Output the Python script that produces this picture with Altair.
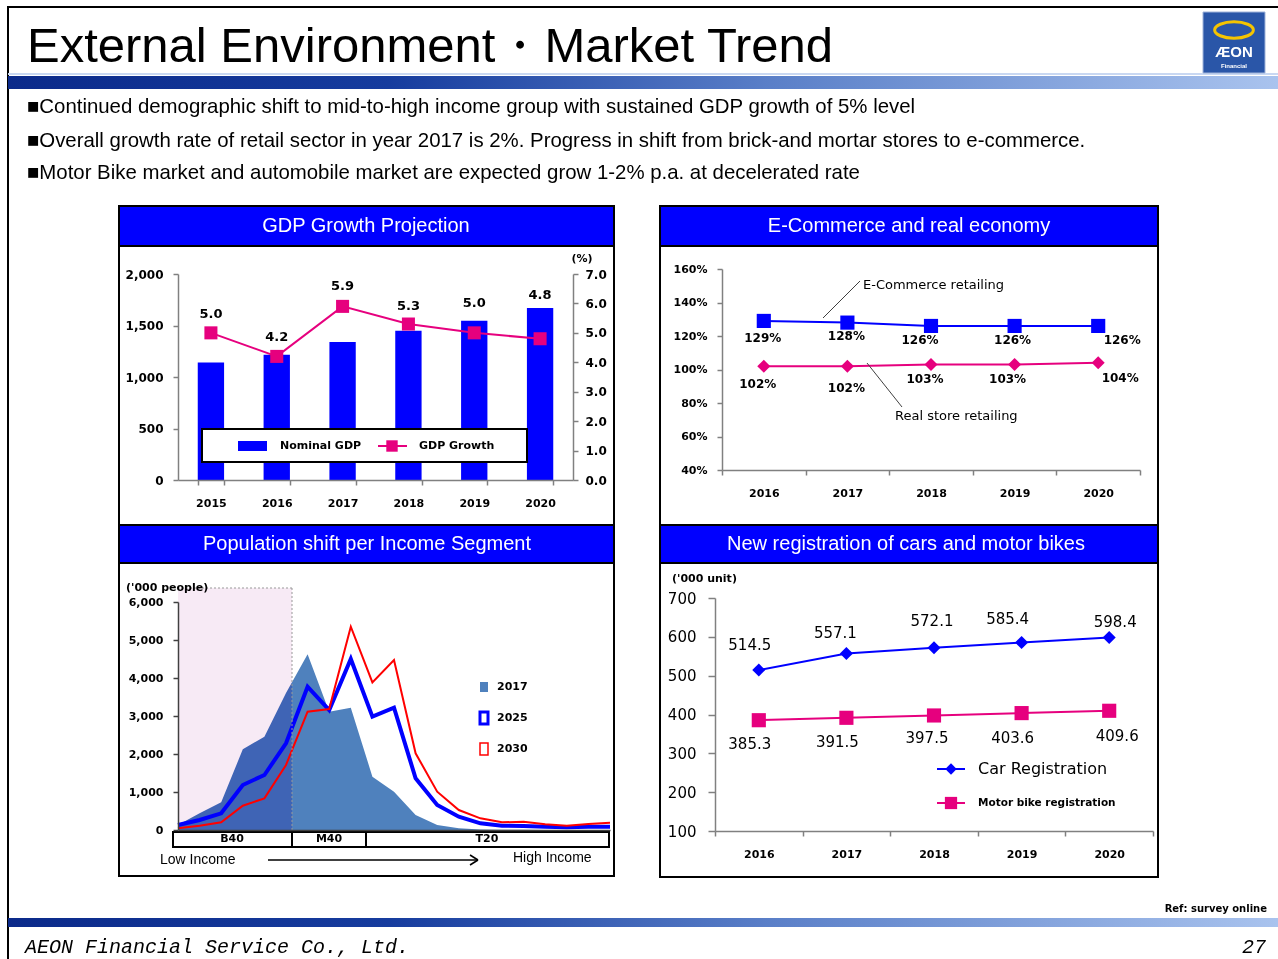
import altair as alt
import pandas as pd

W, H = 1278, 959
SANS = "Liberation Sans"
DJ = "DejaVu Sans"
MONO = "Liberation Mono"
PINK = "#E6007E"
BLUE = "#0000FF"
STEEL = "#4F81BD"
GRAY = "#808080"

# ---------------- data ----------------
title_text = "External Environment・Market Trend"
bullets = [
    "■Continued demographic shift to mid-to-high income group with sustained GDP growth of 5% level",
    "■Overall growth rate of retail sector in year 2017 is 2%. Progress in shift from brick-and mortar stores to e-commerce.",
    "■Motor Bike market and automobile market are expected grow 1-2% p.a. at decelerated rate",
]
panel_titles = [
    "GDP Growth Projection",
    "E-Commerce and real economy",
    "Population shift per Income Segment",
    "New registration of cars and motor bikes",
]

gdp_years = ["2015", "2016", "2017", "2018", "2019", "2020"]
nominal_gdp = [1140, 1215, 1340, 1450, 1545, 1670]
gdp_growth = [5.0, 4.2, 5.9, 5.3, 5.0, 4.8]

ecom_years = ["2016", "2017", "2018", "2019", "2020"]
ecommerce = [129, 128, 126, 126, 126]
real_store = [102, 102, 103, 103, 104]

pop_segments = list(range(21))
pop_2017 = [132, 439, 728, 2123, 2456, 3605, 4623, 3114, 3219, 1404, 1009, 395, 132, 44, 15, 8, 5, 0, 0, 0, 0]
pop_2025 = [132, 263, 439, 1184, 1447, 2281, 3772, 3158, 4500, 2982, 3219, 1360, 658, 351, 175, 114, 105, 88, 70, 88, 88]
pop_2030 = [44, 114, 202, 640, 833, 1711, 3114, 3184, 5351, 3886, 4474, 2018, 1009, 526, 307, 202, 219, 149, 114, 158, 193]
income_groups = ["B40", "M40", "T20"]

reg_years = ["2016", "2017", "2018", "2019", "2020"]
car_reg = [514.5, 557.1, 572.1, 585.4, 598.4]
bike_reg = [385.3, 391.5, 397.5, 403.6, 409.6]

# label placement offsets (dx, dy) in pixels, per category
gdp_label_off = [(0, -19), (0, -19), (0, -20), (0, -18), (0, -30), (0, -44)]
ecom_label_off = [(-1, 17), (-1, 13), (-11, 14), (-2, 14), (24, 14)]
real_label_off = [(-6, 18), (-1, 22), (-6, 15), (-7, 15), (22, 15)]
car_label_off = [(-9, -25), (-11, -20), (-2, -27), (-14, -24), (6, -15)]
bike_label_off = [(-9, 24), (-9, 24), (-7, 23), (-9, 25), (8, 25)]

# ---------------- helpers (decoration) ----------------
ONE = alt.Data(values=[{"d": 0}])


def rect(x0, y0, x1, y1, **kw):
    return alt.Chart(ONE).mark_rect(**kw).encode(
        x=alt.value(x0), x2=alt.value(x1), y=alt.value(y0), y2=alt.value(y1))


def rule(x0, y0, x1, y1, **kw):
    return alt.Chart(ONE).mark_rule(**kw).encode(
        x=alt.value(x0), x2=alt.value(x1), y=alt.value(y0), y2=alt.value(y1))


def label(s, x, y, size=12, font=DJ, weight="normal", color="black",
          align="left", style="normal", baseline="middle"):
    return alt.Chart(ONE).mark_text(
        text=s, fontSize=size, font=font, fontWeight=weight, color=color,
        align=align, baseline=baseline, fontStyle=style).encode(
        x=alt.value(x), y=alt.value(y))


def sym(x, y, shape, size, color, filled=True, sw=1.0):
    return alt.Chart(ONE).mark_point(
        shape=shape, size=size, filled=filled, color=color,
        strokeWidth=sw, opacity=1).encode(x=alt.value(x), y=alt.value(y))


def axis(orient, offset, **kw):
    base = dict(orient=orient, offset=offset, grid=False, domainColor=GRAY,
                tickColor=GRAY, domainWidth=1.5, tickWidth=1.5, tickSize=5,
                labelColor="black", labelFont=DJ, labelFontSize=11,
                labelFontWeight="bold", labelPadding=10, labelOverlap=False,
                labelFlush=False, labelAngle=0, zindex=1)
    base.update(kw)
    return alt.Axis(**base)


def grad(stops):
    return alt.LinearGradient(
        gradient="linear",
        stops=[alt.GradientStop(color=c, offset=o) for o, c in stops],
        x1=0, x2=1, y1=0, y2=0)


def point_labels(df, cats, offsets, x, y, text, **mk):
    out = []
    for c, (dx, dy) in zip(cats, offsets):
        out.append(alt.Chart(df).transform_filter(alt.datum.year == c).mark_text(
            dx=dx, dy=dy, **mk).encode(x=x, y=y, text=text))
    return out


bar_grad = grad([(0, "#0b2a8a"), (0.3, "#163c9e"), (0.6, "#5a7fc8"), (1, "#a9c3ee")])

layers = []

# ---- slide frame, title, bullets ----
layers += [
    rule(7, 7, W, 7, color="black", strokeWidth=2),
    rule(8, 7, 8, H, color="black", strokeWidth=2),
    label(title_text, 27, 47, size=49, font=SANS, color="black"),
    rect(8, 73, W, 75, fill="#c9d8f2"),
    rect(8, 76, W, 89, fill=bar_grad),
]
for i, b in enumerate(bullets):
    layers.append(label(b, 27, [107, 141, 173][i], size=20.4, font=SANS))

# ---- logo ----
layers += [
    rect(1203, 12, 1265, 73, fill="#2a56a8", stroke="#9fb3da", strokeWidth=1),
    sym(1234, 30, "M-1,0A1,0.42 0 1,0 1,0A1,0.42 0 1,0 -1,0Z", 1500, "#f5c400", filled=False, sw=3),
    label("ÆON", 1234, 52, size=15, font=SANS, weight="bold", color="white", align="center"),
    label("Financial", 1234, 66, size=6, font=SANS, weight="bold", color="white", align="center"),
]

# ---- panel frames + headers ----
panels = [
    (119, 206, 614, 525, 246, 226, 366),
    (660, 206, 1158, 525, 246, 226, 909),
    (119, 525, 614, 876, 563, 544, 367),
    (660, 525, 1158, 877, 563, 544, 906),
]
for (x0, y0, x1, y1, hb, ty, tx), t in zip(panels, panel_titles):
    layers += [
        rect(x0, y0, x1, y1, fillOpacity=0, stroke="black", strokeWidth=2),
        rect(x0, y0, x1, hb, fill=BLUE, stroke="black", strokeWidth=2),
        label(t, tx, ty, size=20, font=SANS, color="white", align="center"),
    ]

# ---- GDP panel ----
gdp_df = pd.DataFrame({"year": gdp_years, "gdp": nominal_gdp, "growth": gdp_growth})
xs_gdp = alt.Scale(type="band", domain=gdp_years, range=[178, 573],
                   paddingInner=0.6, paddingOuter=0.3)
gdp_xaxis = axis("bottom", 480 - H, tickBand="extent", labelPadding=12)
bars = alt.Chart(gdp_df).mark_bar(color=BLUE).encode(
    x=alt.X("year:N", scale=xs_gdp, title=None, axis=gdp_xaxis),
    y=alt.Y("gdp:Q", scale=alt.Scale(domain=[0, 2000], range=[480, 274]), title=None,
            axis=axis("left", -178, values=[0, 500, 1000, 1500, 2000], format=",.0f",
                      labelFontSize=12)),
)
gx = alt.X("year:N", scale=xs_gdp, axis=gdp_xaxis, bandPosition=0.5, title=None)
gy = alt.Y("growth:Q", scale=alt.Scale(domain=[0, 7], range=[480, 274]), title=None,
           axis=axis("right", 573 - W, values=[0, 1, 2, 3, 4, 5, 6, 7], format=".1f",
                     labelPadding=7, labelFontSize=12))
gbase = alt.Chart(gdp_df).encode(x=gx, y=gy)
growth = alt.layer(
    gbase.mark_line(color=PINK, strokeWidth=2),
    gbase.mark_point(shape="square", size=170, filled=True, color=PINK, opacity=1),
    *point_labels(gdp_df, gdp_years, gdp_label_off, gx, gy,
                  alt.Text("growth:Q", format=".1f"),
                  fontSize=13, font=DJ, fontWeight="bold", color="black"),
)
layers.append(alt.layer(bars, growth).resolve_scale(y="independent"))
layers += [
    label("(%)", 582, 259, size=11, weight="bold", align="center"),
    rect(202, 429, 527, 462, fill="white", stroke="black", strokeWidth=2),
    rect(238, 441, 267, 451, fill=BLUE),
    label("Nominal GDP", 280, 446, size=11, weight="bold"),
    rule(378, 446, 407, 446, color=PINK, strokeWidth=2),
    sym(392, 446, "square", 130, PINK),
    label("GDP Growth", 419, 446, size=11, weight="bold"),
]

# ---- E-commerce panel ----
e_df = pd.DataFrame({"year": ecom_years, "ecom": ecommerce, "real": real_store})
xs_e = alt.Scale(type="band", domain=ecom_years, range=[722, 1140], paddingInner=0, paddingOuter=0)
ys_e = alt.Scale(domain=[40, 160], range=[470, 269])
ex = alt.X("year:N", scale=xs_e, bandPosition=0.5, title=None,
           axis=axis("bottom", 470 - H, tickBand="extent", labelPadding=12))
ey_axis = axis("left", -722, values=[40, 60, 80, 100, 120, 140, 160],
               labelExpr="datum.value + '%'")


def ey(field):
    return alt.Y(field, scale=ys_e, axis=ey_axis, title=None)


e_df_t = e_df.assign(ecom_t=[f"{v}%" for v in ecommerce], real_t=[f"{v}%" for v in real_store])
ecom_layer = alt.layer(
    alt.Chart(e_df).mark_line(color=BLUE, strokeWidth=2).encode(x=ex, y=ey("ecom:Q")),
    alt.Chart(e_df).mark_point(shape="square", size=200, filled=True, color=BLUE, opacity=1).encode(
        x=ex, y=ey("ecom:Q")),
    alt.Chart(e_df).mark_line(color=PINK, strokeWidth=2).encode(x=ex, y=ey("real:Q")),
    alt.Chart(e_df).mark_point(shape="diamond", size=170, filled=True, color=PINK, opacity=1).encode(
        x=ex, y=ey("real:Q")),
    *point_labels(e_df_t, ecom_years, ecom_label_off, ex, ey("ecom:Q"), "ecom_t:N",
                  fontSize=12, font=DJ, fontWeight="bold", color="black"),
    *point_labels(e_df_t, ecom_years, real_label_off, ex, ey("real:Q"), "real_t:N",
                  fontSize=12, font=DJ, fontWeight="bold", color="black"),
)
layers.append(ecom_layer)
layers += [
    rule(823, 318, 860, 281, color="#404040", strokeWidth=1),
    label("E-Commerce retailing", 863, 285, size=13),
    rule(867, 363, 902, 407, color="#404040", strokeWidth=1),
    label("Real store retailing", 895, 416, size=13),
]

# ---- Population panel ----
p_df = pd.DataFrame({"seg": pop_segments, "p17": pop_2017, "p25": pop_2025, "p30": pop_2030})
xs_p = alt.Scale(domain=[0, 20], range=[178, 610], nice=False, zero=False)
ys_p = alt.Scale(domain=[0, 6000], range=[830, 602])
px = alt.X("seg:Q", scale=xs_p, title=None,
           axis=axis("bottom", 830 - H, labels=False, ticks=False, domainColor="#404040"))
px_na = alt.X("seg:Q", scale=xs_p, axis=None)
layers.append(rect(178, 588, 292, 830, fill="#f8eef6"))
pop_layer = alt.Chart(p_df).mark_area(color=STEEL, opacity=1).encode(
    x=px,
    y=alt.Y("p17:Q", scale=ys_p, title=None,
            axis=axis("left", -178, values=[0, 1000, 2000, 3000, 4000, 5000, 6000],
                      format=",.0f", domainColor="#404040", tickColor="#404040")))
layers.append(pop_layer)
layers.append(rect(178, 588, 292, 830, fill="#e6c8e0", blend="color-burn", opacity=0.85))
pop_lines = alt.layer(
    alt.Chart(p_df).mark_line(color=BLUE, strokeWidth=4).encode(
        x=px_na, y=alt.Y("p25:Q", scale=ys_p, axis=None)),
    alt.Chart(p_df).mark_line(color="#FF0000", strokeWidth=2).encode(
        x=px_na, y=alt.Y("p30:Q", scale=ys_p, axis=None)),
)
layers.append(pop_lines)
layers += [
    rule(178, 588, 292, 588, color="#999999", strokeWidth=1, strokeDash=[2, 2]),
    rule(292, 588, 292, 830, color="#999999", strokeWidth=1, strokeDash=[2, 2]),
    label("('000 people)", 126, 588, size=11, weight="bold"),
    rect(173, 832, 292, 847, fill="white", stroke="black", strokeWidth=2),
    rect(292, 832, 366, 847, fill="white", stroke="black", strokeWidth=2),
    rect(366, 832, 609, 847, fill="white", stroke="black", strokeWidth=2),
    label(income_groups[0], 232, 839, size=11, weight="bold", align="center"),
    label(income_groups[1], 329, 839, size=11, weight="bold", align="center"),
    label(income_groups[2], 487, 839, size=11, weight="bold", align="center"),
    label("Low Income", 160, 860, size=14, font=SANS),
    rule(268, 860, 478, 860, color="black", strokeWidth=1.5),
    rule(470, 855, 478, 860, color="black", strokeWidth=1.5),
    rule(470, 865, 478, 860, color="black", strokeWidth=1.5),
    label("High Income", 513, 858, size=14, font=SANS),
    rect(480, 682, 488, 692, fill=STEEL),
    label("2017", 497, 687, size=11, weight="bold"),
    rect(480, 712, 488, 724, fill="white", stroke=BLUE, strokeWidth=3),
    label("2025", 497, 718, size=11, weight="bold"),
    rect(480, 743, 488, 755, fill="white", stroke="#FF0000", strokeWidth=1.5),
    label("2030", 497, 749, size=11, weight="bold"),
]

# ---- Car / motor bike panel ----
c_df = pd.DataFrame({"year": reg_years, "car": car_reg, "bike": bike_reg})
xs_c = alt.Scale(type="band", domain=reg_years, range=[715, 1153], paddingInner=0, paddingOuter=0)
ys_c = alt.Scale(domain=[100, 700], range=[831, 598])
cx = alt.X("year:N", scale=xs_c, bandPosition=0.5, title=None,
           axis=axis("bottom", 831 - H, tickBand="extent", labelPadding=12))
cy_axis = axis("left", -715, values=[100, 200, 300, 400, 500, 600, 700],
               labelFontSize=15, labelFontWeight="normal", tickSize=7, labelPadding=12)


def cy(field):
    return alt.Y(field, scale=ys_c, axis=cy_axis, title=None)


car_layer = alt.layer(
    alt.Chart(c_df).mark_line(color=BLUE, strokeWidth=2).encode(x=cx, y=cy("car:Q")),
    alt.Chart(c_df).mark_point(shape="diamond", size=170, filled=True, color=BLUE, opacity=1).encode(
        x=cx, y=cy("car:Q")),
    alt.Chart(c_df).mark_line(color=PINK, strokeWidth=2).encode(x=cx, y=cy("bike:Q")),
    alt.Chart(c_df).mark_point(shape="square", size=200, filled=True, color=PINK, opacity=1).encode(
        x=cx, y=cy("bike:Q")),
    *point_labels(c_df, reg_years, car_label_off, cx, cy("car:Q"),
                  alt.Text("car:Q", format=".1f"), fontSize=15, font=DJ, color="black"),
    *point_labels(c_df, reg_years, bike_label_off, cx, cy("bike:Q"),
                  alt.Text("bike:Q", format=".1f"), fontSize=15, font=DJ, color="black"),
)
layers.append(car_layer)
layers += [
    label("('000 unit)", 672, 579, size=11, weight="bold"),
    rule(937, 769, 965, 769, color=BLUE, strokeWidth=2),
    sym(951, 769, "diamond", 130, BLUE),
    label("Car Registration", 978, 769, size=16),
    rule(937, 803, 965, 803, color=PINK, strokeWidth=2),
    sym(951, 803, "square", 150, PINK),
    label("Motor bike registration", 978, 803, size=10.5, weight="bold"),
]

# ---- footer ----
layers += [
    label("Ref: survey online", 1267, 909, size=10, weight="bold", align="right"),
    rect(8, 918, W, 927, fill=bar_grad),
    label("AEON Financial Service Co., Ltd.", 25, 947, size=20, font=MONO, style="italic"),
    label("27", 1266, 947, size=20, font=MONO, style="italic", align="right"),
]

chart = alt.layer(*layers).resolve_scale(x="independent", y="independent").properties(
    width=W, height=H, autosize=alt.AutoSizeParams(type="none"), padding=0
).configure_view(stroke=None)

chart.save("out.html", embed_options={"renderer": "svg", "actions": False})
